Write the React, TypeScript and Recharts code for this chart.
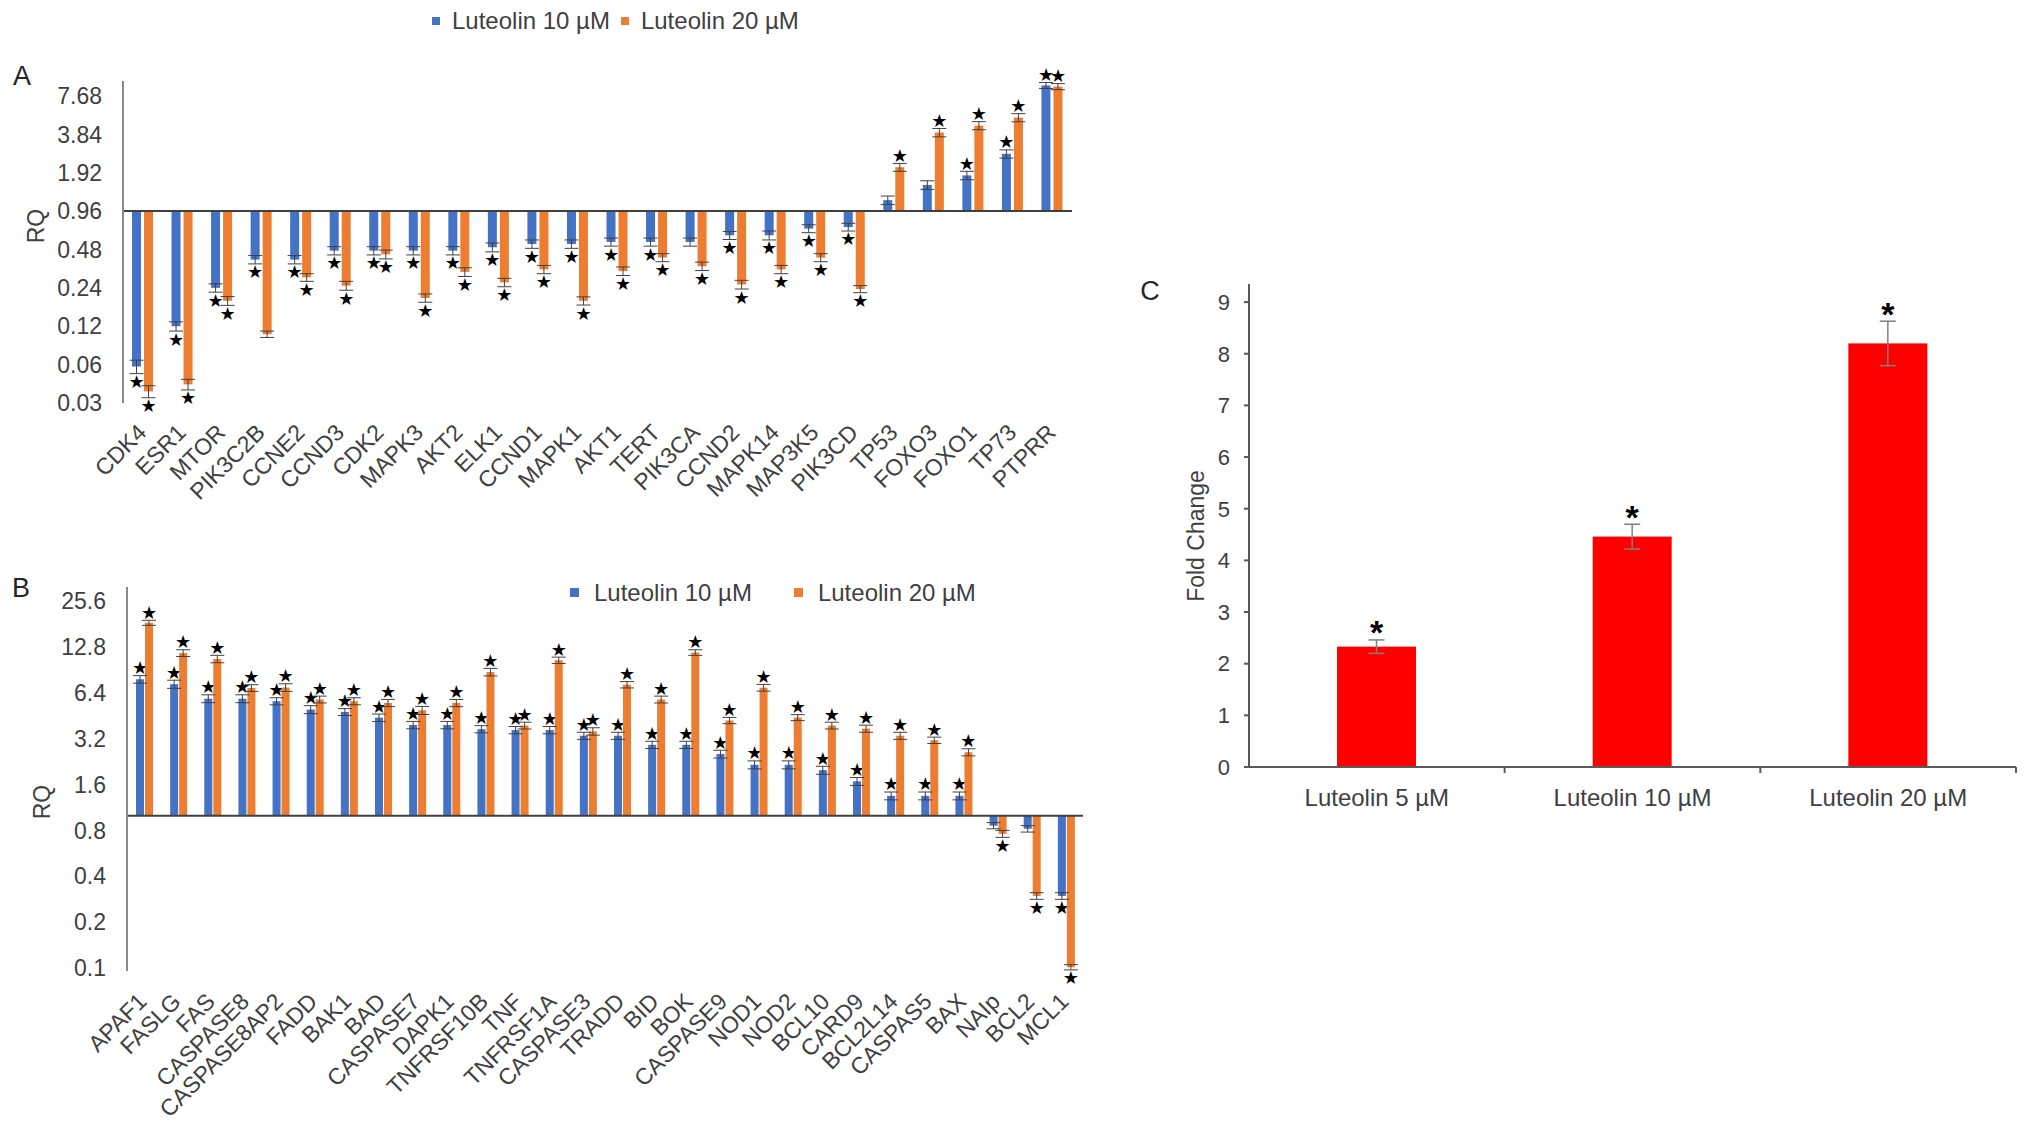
import React from 'react'
import { BarChart, Bar, XAxis, YAxis, ErrorBar, ReferenceLine, Legend } from 'recharts'

const FONT = '"Liberation Sans", Arial, Helvetica, sans-serif'
const INK = '#404040'
const AXIS = '#8a8a8a'
const BLUE = '#4472C4'
const ORANGE = '#ED7D31'
const RED = '#FF0000'

// ---- panel A : cell cycle / signalling genes (RQ, log2 axis crossing at 0.96)
const genesA = [
  'CDK4', 'ESR1', 'MTOR', 'PIK3C2B', 'CCNE2', 'CCND3', 'CDK2', 'MAPK3', 'AKT2', 'ELK1',
  'CCND1', 'MAPK1', 'AKT1', 'TERT', 'PIK3CA', 'CCND2', 'MAPK14', 'MAP3K5', 'PIK3CD',
  'TP53', 'FOXO3', 'FOXO1', 'TP73', 'PTPRR',
]
const rqA10 = [0.058, 0.12, 0.24, 0.40, 0.40, 0.47, 0.47, 0.47, 0.47, 0.50, 0.53, 0.53, 0.55, 0.55, 0.55, 0.62, 0.62, 0.70, 0.72, 1.17, 1.54, 1.83, 2.7, 9.3]
const rqA20 = [0.037, 0.042, 0.19, 0.104, 0.29, 0.25, 0.44, 0.20, 0.32, 0.265, 0.335, 0.19, 0.325, 0.415, 0.355, 0.255, 0.335, 0.415, 0.235, 2.12, 3.97, 4.5, 5.2, 9.1]
const errA10 = [0.007, 0.01, 0.018, 0.03, 0.03, 0.035, 0.035, 0.035, 0.035, 0.04, 0.04, 0.04, 0.04, 0.04, 0.04, 0.045, 0.05, 0.05, 0.05, 0.09, 0.12, 0.14, 0.2, 0.5]
const errA20 = [0.004, 0.004, 0.015, 0.006, 0.02, 0.02, 0.035, 0.015, 0.025, 0.02, 0.025, 0.014, 0.025, 0.03, 0.027, 0.02, 0.025, 0.03, 0.015, 0.15, 0.3, 0.33, 0.38, 0.5]
const sigA10 = [1, 1, 1, 1, 1, 1, 1, 1, 1, 1, 1, 1, 1, 1, 0, 1, 1, 1, 1, 0, 0, 1, 1, 1]
const sigA20 = [1, 1, 1, 0, 1, 1, 1, 1, 1, 1, 1, 1, 1, 1, 1, 1, 1, 1, 1, 1, 1, 1, 1, 1]
const ticksA = ['0.03', '0.06', '0.12', '0.24', '0.48', '0.96', '1.92', '3.84', '7.68']
const baseA = 0.96

// ---- panel B : apoptosis genes (RQ, log2 axis crossing at 1)
const genesB = [
  'APAF1', 'FASLG', 'FAS', 'CASPASE8', 'CASPASE8AP2', 'FADD', 'BAK1', 'BAD', 'CASPASE7',
  'DAPK1', 'TNFRSF10B', 'TNF', 'TNFRSF1A', 'CASPASE3', 'TRADD', 'BID', 'BOK', 'CASPASE9',
  'NOD1', 'NOD2', 'BCL10', 'CARD9', 'BCL2L14', 'CASPAS5', 'BAX', 'NAIp', 'BCL2', 'MCL1',
]
const rqB10 = [7.87, 7.31, 5.87, 5.87, 5.65, 4.98, 4.8, 4.4, 3.94, 3.94, 3.7, 3.65, 3.65, 3.35, 3.35, 2.92, 2.92, 2.54, 2.16, 2.16, 1.99, 1.68, 1.35, 1.35, 1.35, 0.86, 0.82, 0.297]
const rqB20 = [18.5, 11.7, 10.7, 6.9, 6.95, 5.8, 5.65, 5.5, 4.92, 5.5, 8.78, 3.91, 10.5, 3.58, 7.25, 5.8, 11.8, 4.22, 6.93, 4.41, 3.91, 3.73, 3.35, 3.13, 2.61, 0.76, 0.297, 0.101]
const errB10 = [0.45, 0.45, 0.35, 0.35, 0.3, 0.3, 0.25, 0.25, 0.22, 0.22, 0.2, 0.2, 0.2, 0.18, 0.18, 0.16, 0.16, 0.15, 0.13, 0.13, 0.12, 0.1, 0.08, 0.08, 0.08, 0.04, 0.04, 0.015]
const errB20 = [0.7, 0.6, 0.6, 0.35, 0.4, 0.3, 0.3, 0.3, 0.3, 0.3, 0.5, 0.2, 0.5, 0.2, 0.35, 0.3, 0.5, 0.2, 0.35, 0.2, 0.2, 0.2, 0.18, 0.15, 0.14, 0.04, 0.015, 0.004]
const sigB10 = [1, 1, 1, 1, 1, 1, 1, 1, 1, 1, 1, 1, 1, 1, 1, 1, 1, 1, 1, 1, 1, 1, 1, 1, 1, 0, 0, 1]
const sigB20 = [1, 1, 1, 1, 1, 1, 1, 1, 1, 1, 1, 1, 1, 1, 1, 1, 1, 1, 1, 1, 1, 1, 1, 1, 1, 1, 1, 1]
const ticksB = ['0.1', '0.2', '0.4', '0.8', '1.6', '3.2', '6.4', '12.8', '25.6']
const baseB = 1

// ---- panel C : fold change by dose
const dosesC = ['Luteolin 5 µM', 'Luteolin 10 µM', 'Luteolin 20 µM']
const foldC = [2.33, 4.46, 8.2]
const foldErrC = [0.13, 0.24, 0.43]
const sigC = [1, 1, 1]
const ticksC = [0, 1, 2, 3, 4, 5, 6, 7, 8, 9]

const lg = (v: number, base: number) => Math.log2(v / base)
const span = (v: number, e: number, base: number) => [lg(v, base) - lg(v - e, base), lg(v + e, base) - lg(v, base)]

function buildRows(genes, r10, r20, e10, e20, s10, s20, base) {
  return genes.map((g, i) => ({
    gene: g,
    v10: lg(r10[i], base),
    v20: lg(r20[i], base),
    e10: span(r10[i], e10[i], base),
    e20: span(r20[i], e20[i], base),
    s10: s10[i],
    s20: s20[i],
  }))
}

const rowsA = buildRows(genesA, rqA10, rqA20, errA10, errA20, sigA10, sigA20, baseA)
const rowsB = buildRows(genesB, rqB10, rqB20, errB10, errB20, sigB10, sigB20, baseB)
const rowsC = dosesC.map((d, i) => ({ dose: d, fold: foldC[i], err: [foldErrC[i], foldErrC[i]], sig: sigC[i] }))

const tickPos = (labels: string[], base: number) => labels.map((t) => lg(parseFloat(t), base))
const tickLabel = (labels: string[], base: number) => (v: number) =>
  labels.find((t) => Math.abs(lg(parseFloat(t), base) - v) < 1e-6) ?? ''

// bar + significance mark beyond its error bar
const markedBar = (valKey, errKey, sigKey, glyph, size, gap, k, font, weight) => (props) => {
  const { x, y, width, height, fill, payload } = props
  const v = payload[valKey]
  const h = Math.abs(height)
  const top = Math.min(y, y + height)
  let mark = null
  if (payload[sigKey]) {
    const ppu = Math.abs(v) > 1e-6 ? h / Math.abs(v) : 0
    const [lo, hi] = payload[errKey]
    const cy = v >= 0 ? top - hi * ppu - gap : top + h + lo * ppu + gap
    mark = (
      <text x={x + width / 2} y={cy + k * size} textAnchor="middle" fontSize={size}
        fontFamily={font} fontWeight={weight} fill="#000">{glyph}</text>
    )
  }
  return (
    <g>
      <rect x={x} y={top} width={width} height={h} fill={fill} />
      {mark}
    </g>
  )
}

const GeneTick = ({ x, y, payload, dx, dy }: any) => (
  <text transform={`translate(${x + dx},${y + dy}) rotate(-45)`} textAnchor="end"
    fontSize={23} fontFamily={FONT} fill={INK}>{payload.value}</text>
)

const DoseTick = ({ x, y, payload, band }: any) => (
  <g>
    <line x1={x + band / 2} x2={x + band / 2} y1={y} y2={y + 6} stroke="#595959" strokeWidth={2} />
    <text x={x} y={y + 30} textAnchor="middle" dominantBaseline="central"
      fontSize={24} fontFamily={FONT} fill={INK}>{payload.value}</text>
  </g>
)

const legendBox = (sq: number, gap1: number, gap2: number) => ({ payload }: any) => (
  <div style={{ display: 'flex', alignItems: 'center', fontFamily: FONT, fontSize: 24, color: INK, lineHeight: '27px', whiteSpace: 'nowrap' }}>
    {(payload || []).map((p, i) => (
      <span key={i} style={{ display: 'flex', alignItems: 'center', marginLeft: i ? gap2 : 0 }}>
        <span style={{ display: 'inline-block', width: sq, height: sq, background: p.color, marginRight: gap1 }} />
        {p.value}
      </span>
    ))}
  </div>
)

const Title = ({ x, y, size, rotate, children }: any) => (
  <div style={{
    position: 'absolute', left: x, top: y, lineHeight: 1, whiteSpace: 'nowrap',
    transform: `translate(-50%,-50%)${rotate ? ' rotate(-90deg)' : ''}`,
    fontSize: size, fontFamily: FONT, color: rotate ? INK : '#262626',
  }}>{children}</div>
)

const starA = (v, e, s) => markedBar(v, e, s, '★', 18, 8, 0.36, '"DejaVu Sans", sans-serif', 'normal')

function GenePanel({ rows, ticks, base, domain, size, margin, barSize, barGap, yWidth, xHeight, tickDx, tickDy, legendPos, legendFmt }) {
  return (
    <BarChart width={size[0]} height={size[1]} data={rows} margin={margin} barSize={barSize} barGap={barGap}>
      <XAxis dataKey="gene" interval={0} axisLine={false} tickLine={false} tickSize={0} tickMargin={0}
        height={xHeight} tick={<GeneTick dx={tickDx} dy={tickDy} />} />
      <YAxis type="number" domain={domain} ticks={tickPos(ticks, base)} width={yWidth} interval={0}
        axisLine={{ stroke: AXIS, strokeWidth: 2 }} tickLine={false} tickSize={0} tickMargin={21}
        tickFormatter={tickLabel(ticks, base)} tick={{ fill: INK, fontSize: 23, fontFamily: FONT }} />
      <Legend layout="horizontal" verticalAlign="middle" align="center"
        wrapperStyle={{ left: legendPos[0], top: legendPos[1], width: 420 }} content={legendFmt} />
      <Bar dataKey="v10" name="Luteolin 10 µM" fill={BLUE} isAnimationActive={false} shape={starA('v10', 'e10', 's10')}>
        <ErrorBar dataKey="e10" width={7} strokeWidth={1} stroke={INK} direction="y" isAnimationActive={false} />
      </Bar>
      <Bar dataKey="v20" name="Luteolin 20 µM" fill={ORANGE} isAnimationActive={false} shape={starA('v20', 'e20', 's20')}>
        <ErrorBar dataKey="e20" width={7} strokeWidth={1} stroke={INK} direction="y" isAnimationActive={false} />
      </Bar>
      <ReferenceLine y={0} stroke="#404040" strokeWidth={2} />
    </BarChart>
  )
}

const C_W = 931
const C_MARGIN = { top: 34, right: 15, left: 69, bottom: 33 }
const C_YW = 80
const bandC = (C_W - C_MARGIN.left - C_MARGIN.right - C_YW) / dosesC.length

export default function App() {
  return (
    <div style={{ position: 'absolute', left: 0, top: 0, width: 2031, height: 1130, background: '#fff', overflow: 'hidden', fontFamily: FONT }}>
      <div style={{ position: 'absolute', left: 0, top: 0 }}>
        <GenePanel rows={rowsA} ticks={ticksA} base={baseA} domain={[-5, 3.39]} size={[1100, 540]}
          margin={{ top: 81, right: 28, left: 13, bottom: 17 }} barSize={9} barGap={3} yWidth={110} xHeight={120}
          tickDx={5} tickDy={31} legendPos={[432, 7]} legendFmt={legendBox(8, 12, 11)} />
      </div>
      <div style={{ position: 'absolute', left: 0, top: 560 }}>
        <GenePanel rows={rowsB} ticks={ticksB} base={baseB} domain={[-3.39, 4.99]} size={[1100, 570]}
          margin={{ top: 27, right: 17, left: 17, bottom: 19 }} barSize={8} barGap={1} yWidth={110} xHeight={140}
          tickDx={4} tickDy={32} legendPos={[570, 19]} legendFmt={legendBox(9, 15, 42)} />
      </div>
      <div style={{ position: 'absolute', left: 1100, top: 250 }}>
        <BarChart width={C_W} height={600} data={rowsC} margin={C_MARGIN} barSize={79}>
          <XAxis dataKey="dose" interval={0} axisLine={{ stroke: '#595959', strokeWidth: 2 }} tickLine={false}
            tickSize={0} tickMargin={0} height={50} tick={<DoseTick band={bandC} />} />
          <YAxis type="number" domain={[0, 9.35]} ticks={ticksC} width={C_YW} interval={0}
            axisLine={{ stroke: '#595959', strokeWidth: 2 }} tickLine={{ stroke: '#595959', strokeWidth: 2 }}
            tickSize={5} tickMargin={14} tick={{ fill: INK, fontSize: 22, fontFamily: FONT }} />
          <Bar dataKey="fold" fill={RED} isAnimationActive={false}
            shape={markedBar('fold', 'err', 'sig', '*', 34, 15, 0.575, FONT, 'bold')}>
            <ErrorBar dataKey="err" width={8} strokeWidth={1.5} stroke="#7f7f7f" direction="y" isAnimationActive={false} />
          </Bar>
        </BarChart>
      </div>
      <Title x={22} y={76} size={27}>A</Title>
      <Title x={21} y={588} size={27}>B</Title>
      <Title x={1150} y={291} size={27}>C</Title>
      <Title x={36} y={226} size={23} rotate>RQ</Title>
      <Title x={42} y={802} size={23} rotate>RQ</Title>
      <Title x={1196} y={536} size={23} rotate>Fold Change</Title>
    </div>
  )
}
